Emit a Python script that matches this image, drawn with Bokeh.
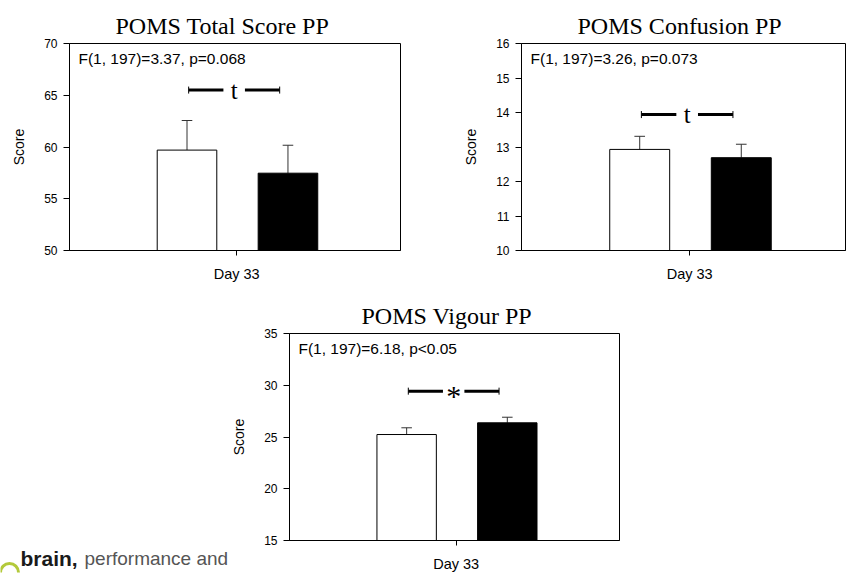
from bokeh.plotting import figure
from bokeh.models import Range1d, FixedTicker, Label
from bokeh.layouts import column, row
from bokeh.core.properties import value
from bokeh.embed import file_html
from bokeh.resources import INLINE

# ---- data ----
titles = ["POMS Total Score PP", "POMS Confusion PP", "POMS Vigour PP"]
stats = ["F(1, 197)=3.37, p=0.068", "F(1, 197)=3.26, p=0.073", "F(1, 197)=6.18, p<0.05"]
category = "Day 33"
mean_white = [59.7, 12.93, 25.24]
se_white = [2.86, 0.38, 0.65]
mean_black = [57.47, 12.69, 26.37]
se_black = [2.70, 0.39, 0.54]
y_ranges = [(50, 70), (10, 16), (15, 35)]
y_ticks = [[50, 55, 60, 65, 70], [10, 11, 12, 13, 14, 15, 16], [15, 20, 25, 30, 35]]
sig_marks = ["t", "t", "*"]
sig_levels = [65.5, 13.94, 29.43]
logo_words = ["brain,", "performance and"]

SANS = "Liberation Sans"
SERIF = "Liberation Serif"
BAR_X = [0.355, 0.66]
TICK_X = 0.505


def make_panel(i, width, height, bl, br, bt, bb, x_end, title_left):
    y0, y1 = y_ranges[i]
    span = y1 - y0
    p = figure(width=width, height=height, x_range=Range1d(0, x_end),
               y_range=Range1d(y0, y1), output_backend="svg", toolbar_location=None,
               min_border_left=bl, min_border_right=br, min_border_top=bt,
               min_border_bottom=bb, title=titles[i])
    p.title.text_font = SERIF
    p.title.text_font_size = "24px"
    p.title.text_font_style = "normal"
    p.title.align = "left"
    p.title.offset = title_left
    p.title.text_color = "black"
    p.grid.visible = False
    p.outline_line_color = "black"
    p.outline_line_alpha = 1
    p.background_fill_color = "white"
    p.border_fill_color = "white"

    # y axis
    ya = p.yaxis[0]
    ya.ticker = FixedTicker(ticks=y_ticks[i])
    ya.major_tick_out = 6
    ya.major_tick_in = 0
    ya.minor_tick_line_color = None
    ya.axis_line_color = "black"
    ya.major_tick_line_color = "black"
    ya.major_label_text_font = SANS
    ya.major_label_text_font_size = "12px"
    ya.major_label_text_color = "black"
    ya.major_label_standoff = 6
    ya.axis_label = "Score"
    ya.axis_label_text_font = SANS
    ya.axis_label_text_font_size = "14px"
    ya.axis_label_text_font_style = "normal"
    ya.axis_label_text_color = "black"
    ya.axis_label_standoff = 14

    # x axis: a single tick labelled with the category
    xa = p.xaxis[0]
    xa.ticker = FixedTicker(ticks=[TICK_X])
    xa.major_tick_out = 5
    xa.major_tick_in = 0
    xa.minor_tick_line_color = None
    xa.axis_line_color = "black"
    xa.major_tick_line_color = "black"
    xa.major_label_overrides = {TICK_X: category}
    xa.major_label_text_font = SANS
    xa.major_label_text_font_size = "14.5px"
    xa.major_label_text_color = "black"
    xa.major_label_standoff = 10

    means = [mean_white[i], mean_black[i]]
    ses = [se_white[i], se_black[i]]
    tops = [m + s for m, s in zip(means, ses)]

    # error bars (drawn first so bars cover the lower part)
    p.segment(x0=BAR_X, y0=means, x1=BAR_X, y1=tops, line_color="#333333", line_width=1)
    p.segment(x0=[x - 0.016 for x in BAR_X], y0=tops, x1=[x + 0.016 for x in BAR_X],
              y1=tops, line_color="#333333", line_width=1)
    p.vbar(x=BAR_X, top=means, bottom=y0, width=0.18,
           fill_color=["white", "black"], line_color="black", line_width=1)

    # significance bracket
    s = sig_levels[i]
    cap = 3.5 / 207 * span
    p.segment(x0=[0.36, 0.53], y0=[s, s], x1=[0.465, 0.635], y1=[s, s],
              line_color="black", line_width=3)
    p.segment(x0=[0.36, 0.635], y0=[s - cap, s - cap], x1=[0.36, 0.635],
              y1=[s + cap, s + cap], line_color="black", line_width=1)
    is_star = sig_marks[i] == "*"
    p.text(x=[0.4975], y=[s], text=[sig_marks[i]], text_font=value(SERIF),
           text_font_size="30px" if is_star else "25px", text_align="center",
           text_baseline="middle", y_offset=4 if is_star else 0, text_color="black")

    # statistics annotation
    p.add_layout(Label(x=9 / 333, y=y1 - 15 / 207 * span,
                       text=stats[i], text_font=SANS, text_font_size="15.5px",
                       text_baseline="middle", text_color="black"))
    return p


p1 = make_panel(0, 460, 290, 69, 60, 43, 40, 1.0, 46)
p2 = make_panel(1, 386, 290, 61, 1, 43, 40, 0.973, 56)
p3 = make_panel(2, 618, 285, 58, 227, 43, 35, 1.0, 72)

# slide footer logo (decoration), drawn in a pixel-scaled blank figure
W_LOGO, H_LOGO = 228, 285
logo = figure(width=W_LOGO, height=H_LOGO, x_range=Range1d(0, W_LOGO),
              y_range=Range1d(H_LOGO, 0), output_backend="svg", toolbar_location=None,
              x_axis_type=None, y_axis_type=None,
              min_border_left=0, min_border_right=0, min_border_top=0,
              min_border_bottom=0, outline_line_color=None)
logo.frame_align = False
logo.grid.visible = False
logo.arc(x=[9], y=[282], radius=9, start_angle=0, end_angle=3.1416,
         line_color="#b3c93a", line_width=3, direction="anticlock")
logo.text(x=[20], y=[268], text=[logo_words[0]], text_font=value(SANS),
          text_font_size="21px", text_font_style="bold", text_color="#1a1a1a",
          text_baseline="alphabetic")
logo.text(x=[84], y=[268], text=[logo_words[1]], text_font=value(SANS),
          text_font_size="19px", text_color="#555555", text_baseline="alphabetic")

layout = column(row(p1, p2), row(logo, p3))
open("out.html", "w").write(file_html(layout, INLINE))
